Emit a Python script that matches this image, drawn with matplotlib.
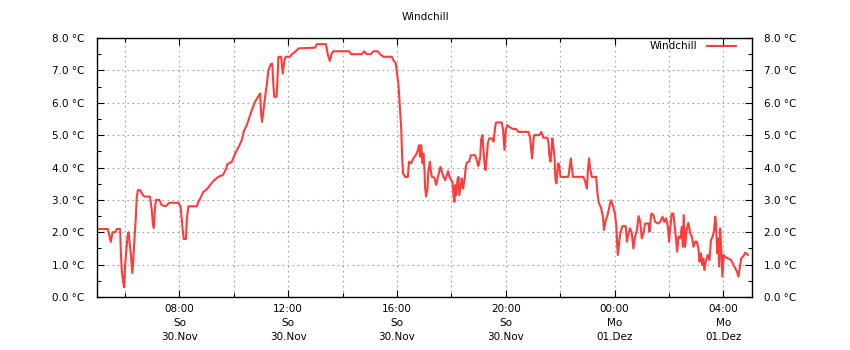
import matplotlib
matplotlib.use("Agg")
import matplotlib.pyplot as plt
import matplotlib.dates as mdates
from matplotlib.ticker import MultipleLocator, FuncFormatter
import pandas as pd

# hours since 30 Nov 00:00
hours = [4.98, 5.37, 5.48, 5.54, 5.64, 5.70, 5.82, 5.85, 5.88, 5.93, 5.97, 6.00, 6.04, 6.09, 6.13, 6.16,
         6.21, 6.27, 6.32, 6.36, 6.40, 6.43, 6.47, 6.56, 6.62, 6.71, 6.92, 6.99, 7.02, 7.06, 7.10, 7.14,
         7.26, 7.35, 7.50, 7.62, 7.96, 8.04, 8.09, 8.12, 8.16, 8.24, 8.27, 8.33, 8.64, 8.70, 8.80,
         8.88, 9.00, 9.13, 9.28, 9.43, 9.60, 9.72, 9.76, 9.93, 10.05, 10.21, 10.29, 10.38, 10.48, 10.56,
         10.66, 10.78, 10.90, 10.97, 11.00, 11.04, 11.09, 11.15, 11.21, 11.27, 11.36, 11.41, 11.46, 11.49,
         11.57, 11.60, 11.64, 11.74, 11.80, 11.86, 11.91, 12.07, 12.13, 12.25, 12.38,
         12.99, 13.05, 13.39, 13.46, 13.53, 13.60, 13.66, 14.24, 14.31, 14.71, 14.79, 14.89, 15.04, 15.13,
         15.29, 15.38, 15.50, 15.81, 15.87, 15.96, 16.00, 16.05, 16.10, 16.15, 16.19, 16.22, 16.30, 16.40,
         16.44, 16.52, 16.60, 16.69, 16.77, 16.81, 16.85, 16.89, 16.94, 16.97, 17.01, 17.03, 17.07, 17.12,
         17.15, 17.21, 17.24, 17.28, 17.37, 17.44, 17.49, 17.55, 17.60, 17.65, 17.71, 17.77, 17.83, 17.88,
         17.93, 17.99, 18.04, 18.07, 18.11, 18.15, 18.18, 18.22, 18.26, 18.29, 18.35, 18.38, 18.43, 18.48,
         18.53, 18.57, 18.65, 18.72, 18.87, 18.93, 18.99, 19.06, 19.09, 19.14, 19.18, 19.21, 19.25, 19.29,
         19.34, 19.39, 19.49, 19.55, 19.61, 19.64, 19.85, 19.90, 19.95, 20.00, 20.05, 20.12,
         20.26, 20.38, 20.46, 20.83, 20.89, 20.93, 20.97, 21.01, 21.04, 21.24, 21.30, 21.35, 21.38, 21.53,
         21.57, 21.60, 21.64, 21.68, 21.71, 21.75, 21.79, 21.82, 21.86, 21.90, 21.93, 21.97, 22.01, 22.30,
         22.34, 22.39, 22.43, 22.47, 22.85, 22.92, 22.98, 23.02, 23.06, 23.10, 23.16, 23.32, 23.37, 23.42,
         23.49, 23.57, 23.61, 23.66, 23.74, 23.81, 23.86, 23.93, 24.01, 24.06, 24.09, 24.12,
         24.17, 24.21, 24.29, 24.41, 24.45, 24.51, 24.57, 24.63, 24.69, 24.75, 24.82, 24.88, 24.94, 25.00,
         25.06, 25.12, 25.25, 25.28, 25.35, 25.43, 25.49, 25.59, 25.68, 25.76, 25.83, 25.89, 25.96, 26.00,
         26.05, 26.10, 26.16, 26.20, 26.25, 26.30, 26.35, 26.41, 26.47, 26.51, 26.54, 26.59, 26.65, 26.71,
         26.78, 26.84, 26.90, 26.96, 27.02, 27.08, 27.12, 27.17, 27.22, 27.26, 27.30, 27.35, 27.42, 27.49,
         27.54, 27.60, 27.65, 27.70, 27.73, 27.77, 27.81, 27.84, 27.88, 27.92, 27.96, 28.01, 28.06, 28.18,
         28.28, 28.37, 28.45, 28.50, 28.55, 28.60, 28.65, 28.74, 28.80, 28.90]

windchill = [2.1, 2.1, 1.7, 2.0, 2.0, 2.1, 2.1, 1.3, 0.83, 0.47, 0.3, 0.94, 1.36, 1.86, 2.0, 1.76,
             1.36, 0.74, 1.36, 1.97, 2.48, 3.06, 3.3, 3.3, 3.2, 3.1, 3.1, 2.63, 2.28, 2.13, 2.75, 3.0,
             3.0, 2.84, 2.8, 2.91, 2.91, 2.8, 2.38, 2.07, 1.79, 1.79, 2.38, 2.8, 2.8, 2.94, 3.1,
             3.25, 3.32, 3.46, 3.61, 3.71, 3.77, 3.97, 4.1, 4.18, 4.43, 4.69, 4.84, 5.15, 5.31, 5.51,
             5.77, 6.03, 6.2, 6.29, 5.67, 5.41, 5.77, 6.18, 6.54, 7.0, 7.19, 7.21, 6.49, 6.18,
             6.18, 6.6, 7.42, 7.42, 6.9, 7.31, 7.42, 7.42, 7.5, 7.57, 7.68,
             7.7, 7.81, 7.81, 7.47, 7.29, 7.52, 7.59, 7.59, 7.5, 7.5, 7.59, 7.5, 7.5, 7.59,
             7.59, 7.5, 7.42, 7.42, 7.31, 7.21, 6.9, 6.6, 5.93, 5.26, 4.33, 3.82, 3.71, 3.71,
             4.18, 4.13, 4.28, 4.38, 4.54, 4.69, 4.33, 4.69, 4.13, 4.43, 3.92, 3.4, 3.1, 3.35,
             3.87, 4.18, 3.92, 3.71, 3.69, 3.46, 3.66, 3.87, 4.02, 3.87, 3.71, 3.61, 3.77, 3.89,
             3.71, 3.61, 3.56, 3.2, 2.94, 3.46, 3.15, 3.61, 3.71, 3.15, 3.46, 3.66, 3.35, 3.61,
             4.02, 4.15, 4.18, 4.38, 4.38, 4.23, 4.04, 4.33, 4.87, 5.0, 4.54, 4.18, 3.92, 4.23,
             4.76, 4.9, 4.9, 4.8, 5.26, 5.39, 5.39, 5.15, 4.54, 5.15, 5.31, 5.26,
             5.19, 5.19, 5.1, 5.1, 4.95, 4.54, 4.28, 4.8, 5.0, 5.0, 5.1, 5.0, 4.92, 4.92,
             4.74, 4.38, 4.18, 4.54, 4.9, 4.64, 4.33, 3.66, 3.51, 3.92, 4.13, 4.02, 3.71, 3.71,
             3.97, 4.28, 3.97, 3.71, 3.71, 3.56, 3.35, 3.92, 4.28, 3.97, 3.71, 3.71, 3.2, 2.89,
             2.79, 2.48, 2.07, 2.32, 2.53, 2.79, 2.99, 2.84, 2.58, 2.22, 1.66, 1.3,
             1.71, 1.97, 2.19, 2.19, 1.71, 1.97, 2.12, 1.97, 1.5, 1.86, 2.07, 2.5, 2.32, 1.81,
             1.97, 2.27, 2.27, 2.02, 2.58, 2.53, 2.32, 2.27, 2.32, 2.48, 2.32, 2.43, 2.17, 1.71,
             2.17, 2.58, 2.58, 2.27, 1.86, 1.4, 1.86, 1.81, 2.17, 1.55, 2.53, 1.55, 2.07, 2.29,
             1.97, 1.86, 1.55, 1.71, 1.71, 1.5, 1.09, 1.35, 0.99, 1.19, 0.83, 1.09, 1.3, 1.14,
             1.76, 1.86, 2.02, 2.48, 2.22, 1.35, 1.81, 0.94, 2.12, 1.45, 0.63, 1.3, 1.24, 1.19,
             1.14, 0.99, 0.85, 0.78, 0.63, 0.89, 1.19, 1.27, 1.37, 1.3]

title = "Windchill"
series_label = "Windchill"
weekdays_de = ["Mo", "Di", "Mi", "Do", "Fr", "Sa", "So"]
months_de = ["Jan", "Feb", "Mär", "Apr", "Mai", "Jun", "Jul", "Aug", "Sep", "Okt", "Nov", "Dez"]

base = pd.Timestamp("2025-11-30 00:00")
times = base + pd.to_timedelta(hours, unit="h")
x_start = base + pd.to_timedelta(4.97, unit="h")
x_end = base + pd.to_timedelta(29.05, unit="h")

fig = plt.figure(figsize=(8.5, 3.5), dpi=100)
ax = fig.add_axes([97 / 850, 53 / 350, 655 / 850, 259 / 350])

ax.plot(times, windchill, color="#ff3c3c", lw=1.5, label=series_label)

ax.set_xlim(x_start, x_end)
ax.set_ylim(0, 8)

ax.xaxis.set_major_locator(mdates.HourLocator(byhour=[0, 4, 8, 12, 16, 20]))
ax.xaxis.set_minor_locator(mdates.HourLocator(byhour=[2, 6, 10, 14, 18, 22]))


def fmt_date(x, pos=None):
    d = mdates.num2date(x)
    return f"{d:%H:%M}\n{weekdays_de[d.weekday()]}\n{d.day:02d}.{months_de[d.month - 1]}"


ax.xaxis.set_major_formatter(FuncFormatter(fmt_date))
ax.yaxis.set_major_locator(MultipleLocator(1))
ax.yaxis.set_minor_locator(MultipleLocator(0.5))
ax.yaxis.set_major_formatter(FuncFormatter(lambda v, p: f"{v:.1f} °C"))

ax.tick_params(axis="both", which="both", direction="in", top=True, right=True,
               labelright=True, labelsize=7.5, colors="black")
ax.tick_params(axis="both", which="major", length=5, width=0.8)
ax.tick_params(axis="both", which="minor", length=3, width=0.8)
ax.tick_params(axis="x", which="major", pad=5)
ax.tick_params(axis="y", which="major", pad=9)
for lab in ax.get_xticklabels():
    lab.set_linespacing(1.5)

ax.grid(True, which="major", axis="both", color="#a0a0a0", linestyle=(0, (1.5, 3)), lw=0.8)
ax.grid(True, which="minor", axis="x", color="#a0a0a0", linestyle=(0, (1.5, 3)), lw=0.8)
for s in ax.spines.values():
    s.set_linewidth(1.0)

fig.suptitle(title, y=0.965, fontsize=7.5)
leg = ax.legend(loc="upper right", frameon=False, fontsize=7.5, handlelength=2.8,
                markerfirst=False, borderaxespad=0.0, handletextpad=0.9,
                bbox_to_anchor=(1 - 12 / 655, 1 + 1 / 259))

fig.savefig("out.png", dpi=100)
